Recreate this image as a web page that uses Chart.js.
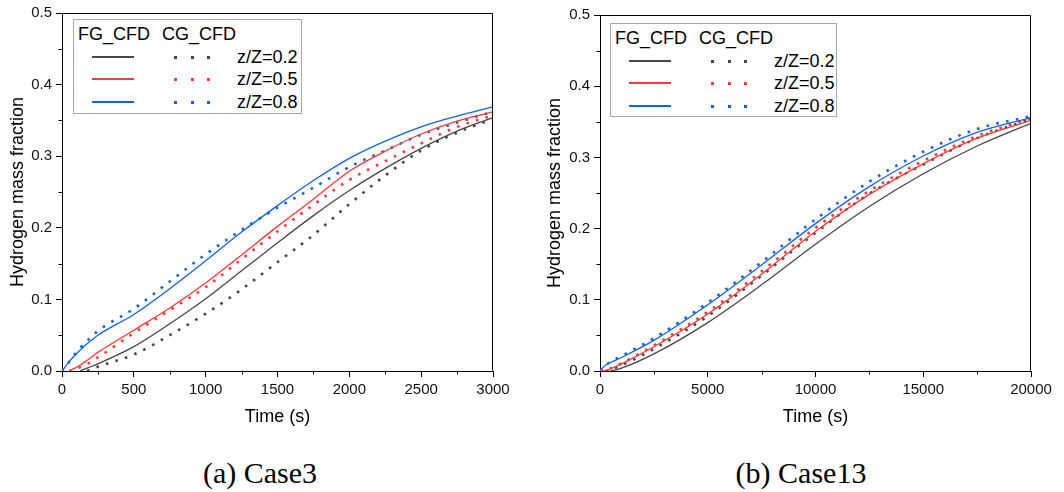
<!DOCTYPE html>
<html>
<head>
<meta charset="utf-8">
<script src="https://cdn.jsdelivr.net/npm/chart.js@4.4.1/dist/chart.umd.min.js"></script>
<style>
  body { margin: 0; background: #fff; width: 1064px; height: 492px; overflow: hidden; position: relative; font-family: Arial, "Liberation Sans", sans-serif; }
  canvas { position: absolute; top: 0; }
  #chart-a { left: 0; }
  #chart-b { left: 530px; }
  .legend { position: absolute; background: #fff; border: 1px solid #a8a8a8; box-sizing: border-box; color: #000; font-size: 18px; }
  .legend span { position: absolute; line-height: 20px; white-space: nowrap; }
  .legend .solid { position: absolute; height: 1.4px; }
  .legend .dot { position: absolute; width: 3px; height: 3px; }
  .caption { position: absolute; width: 240px; text-align: center; font-family: "Liberation Serif", "Times New Roman", serif; font-size: 30px; line-height: 36px; color: #000; }
</style>
</head>
<body>
<canvas id="chart-a" width="530" height="440"></canvas>
<canvas id="chart-b" width="534" height="440"></canvas>
<div class="caption" style="left:140px; top:455px;">(a) Case3</div>
<div class="caption" style="left:681px; top:455px;">(b) Case13</div>
<script>
// series labels and colours
const zLabels = ['z/Z=0.2', 'z/Z=0.5', 'z/Z=0.8'];
const zColors = ['#474747', '#f23b3b', '#1763d8'];

// Case3 (time in s)
const case3Time = [0, 50, 100, 125, 175, 250, 500, 750, 1000, 1250, 1500, 1750, 2000, 2250, 2500, 2750, 3000];
const case3FG02 = [null, null, null, 0, 0.004, 0.010, 0.034, 0.066, 0.101, 0.140, 0.179, 0.217, 0.252, 0.283, 0.311, 0.335, 0.354];
const case3FG05 = [null, 0, 0.005, 0.008, 0.015, 0.026, 0.057, 0.088, 0.123, 0.162, 0.202, 0.240, 0.279, 0.307, 0.331, 0.349, 0.362];
const case3FG08 = [0, 0.013, 0.024, 0.029, 0.038, 0.050, 0.079, 0.115, 0.154, 0.194, 0.231, 0.266, 0.297, 0.321, 0.341, 0.356, 0.369];
const case3CG02 = [null, null, null, null, 0, 0.006, 0.023, 0.050, 0.080, 0.114, 0.152, 0.190, 0.233, 0.273, 0.308, 0.333, 0.352];
const case3CG05 = [null, 0, 0.003, 0.005, 0.010, 0.019, 0.053, 0.085, 0.117, 0.156, 0.195, 0.232, 0.267, 0.293, 0.318, 0.341, 0.357];
const case3CG08 = [0, 0.013, 0.026, 0.032, 0.042, 0.056, 0.087, 0.125, 0.163, 0.197, 0.228, 0.256, 0.285, 0.308, 0.330, 0.347, 0.362];

// Case13 (time in s)
const case13Time = [0, 250, 500, 1000, 2500, 5000, 7500, 10000, 12500, 15000, 17500, 20000];
const case13FG02 = [null, null, 0, 0.004, 0.024, 0.068, 0.121, 0.178, 0.231, 0.277, 0.316, 0.348];
const case13FG05 = [0, 0, 0.003, 0.010, 0.034, 0.080, 0.136, 0.196, 0.248, 0.291, 0.327, 0.352];
const case13FG08 = [0, 0.008, 0.012, 0.019, 0.043, 0.093, 0.149, 0.207, 0.259, 0.302, 0.335, 0.356];
const case13CG02 = [null, 0, 0.002, 0.008, 0.031, 0.077, 0.134, 0.194, 0.249, 0.290, 0.327, 0.354];
const case13CG05 = [0, 0.001, 0.004, 0.011, 0.036, 0.083, 0.140, 0.201, 0.253, 0.295, 0.330, 0.355];
const case13CG08 = [0, 0.008, 0.013, 0.021, 0.046, 0.096, 0.153, 0.213, 0.266, 0.308, 0.340, 0.358];

// axis ticks
const yTicks = [0, 0.1, 0.2, 0.3, 0.4, 0.5];
const case3XTicks = [0, 500, 1000, 1500, 2000, 2500, 3000];
const case13XTicks = [0, 5000, 10000, 15000, 20000];

Chart.defaults.font.family = 'Arial, "Liberation Sans", sans-serif';
Chart.defaults.color = '#000';

function toPoints(times, values) {
    return times.map((t, i) => ({ x: t, y: values[i] }));
}

function lineSet(label, times, values, color, dotted) {
    return {
        label: label,
        data: toPoints(times, values),
        borderColor: color,
        backgroundColor: color,
        borderWidth: dotted ? 2.6 : 1.3,
        borderDash: dotted ? [2.6, 7.4] : [],
        pointRadius: 0,
        cubicInterpolationMode: 'monotone',
        spanGaps: false
    };
}

// top/right frame lines and minor ticks
const frameAndMinor = {
    id: 'frameAndMinor',
    afterDraw(chart) {
        const { ctx, chartArea: a, scales: { x, y } } = chart;
        const L = Math.round(a.left) + 0.5, R = Math.round(a.right) - 0.5;
        const T = Math.round(a.top) + 0.5, B = Math.round(a.bottom) - 0.5;
        ctx.save();
        ctx.strokeStyle = '#000';
        ctx.lineWidth = 1;
        ctx.beginPath();
        ctx.moveTo(L, T);
        ctx.lineTo(R, T);
        ctx.lineTo(R, B);
        ctx.stroke();
        const xt = x.ticks.map(t => t.value);
        ctx.beginPath();
        for (let i = 0; i < xt.length - 1; i++) {
            const px = Math.round(x.getPixelForValue((xt[i] + xt[i + 1]) / 2)) + 0.5;
            ctx.moveTo(px, B);
            ctx.lineTo(px, B + 4);
        }
        const yt = y.ticks.map(t => t.value);
        for (let i = 0; i < yt.length - 1; i++) {
            const py = Math.round(y.getPixelForValue((yt[i] + yt[i + 1]) / 2)) + 0.5;
            ctx.moveTo(L, py);
            ctx.lineTo(L - 4, py);
        }
        ctx.stroke();
        ctx.restore();
    }
};

function makeChart(id, times, fg, cg, xTicks, yWidth, yTitlePad, padTop, padRight) {
    const datasets = [];
    fg.forEach((s, i) => datasets.push(lineSet('FG ' + zLabels[i], times, s, zColors[i], false)));
    cg.forEach((s, i) => datasets.push(lineSet('CG ' + zLabels[i], times, s, zColors[i], true)));
    const xMax = xTicks[xTicks.length - 1];
    return new Chart(document.getElementById(id), {
        type: 'line',
        data: { datasets: datasets },
        options: {
            responsive: false,
            animation: false,
            layout: { padding: { top: padTop, right: padRight, left: 0, bottom: 0 } },
            plugins: { legend: { display: false }, tooltip: { enabled: false } },
            scales: {
                x: {
                    type: 'linear',
                    min: 0,
                    max: xMax,
                    afterBuildTicks: scale => { scale.ticks = xTicks.map(v => ({ value: v })); },
                    afterFit: scale => { scale.height = 69; },
                    ticks: { font: { size: 15 }, color: '#111', padding: 4, maxRotation: 0, autoSkip: false, callback: v => String(v) },
                    grid: { drawOnChartArea: false, drawTicks: true, tickLength: 6, color: '#000' },
                    border: { display: true, color: '#000', width: 1 },
                    title: { display: true, text: 'Time (s)', font: { size: 18 }, padding: { top: 0, bottom: 12 } }
                },
                y: {
                    min: 0,
                    max: 0.5,
                    afterBuildTicks: scale => { scale.ticks = yTicks.map(v => ({ value: v })); },
                    afterFit: scale => { scale.width = yWidth; },
                    ticks: { font: { size: 15 }, color: '#111', padding: 4, callback: v => v.toFixed(1) },
                    grid: { drawOnChartArea: false, drawTicks: true, tickLength: 6, color: '#000' },
                    border: { display: true, color: '#000', width: 1 },
                    title: { display: true, text: 'Hydrogen mass fraction', font: { size: 18 }, padding: { top: yTitlePad, bottom: 0 } }
                }
            }
        },
        plugins: [frameAndMinor]
    });
}

function makeLegend(left, top, width, height) {
    const box = document.createElement('div');
    box.className = 'legend';
    box.style.left = left + 'px';
    box.style.top = top + 'px';
    box.style.width = width + 'px';
    box.style.height = height + 'px';
    let html = '<span style="left:4px; top:4px;">FG_CFD</span><span style="left:88px; top:4px;">CG_CFD</span>';
    const rowY = [37, 59, 82];
    zLabels.forEach((lab, i) => {
        const cy = rowY[i];
        html += '<div class="solid" style="left:18px; width:42px; top:' + (cy - 0.7) + 'px; background:' + zColors[i] + ';"></div>';
        [101, 118, 134].forEach(dx => {
            html += '<div class="dot" style="left:' + (dx - 1.5) + 'px; top:' + (cy - 1.5) + 'px; background:' + zColors[i] + ';"></div>';
        });
        html += '<span style="left:163px; top:' + (cy - 10) + 'px;">' + lab + '</span>';
    });
    box.innerHTML = html;
    document.body.appendChild(box);
}

makeChart('chart-a', case3Time, [case3FG02, case3FG05, case3FG08], [case3CG02, case3CG05, case3CG08], case3XTicks, 62, 7, 12, 37);
makeChart('chart-b', case13Time, [case13FG02, case13FG05, case13FG08], [case13CG02, case13CG05, case13CG08], case13XTicks, 70, 14, 15, 33);
makeLegend(73, 19, 229, 95);
makeLegend(610, 23, 227, 94);
</script>
</body>
</html>
